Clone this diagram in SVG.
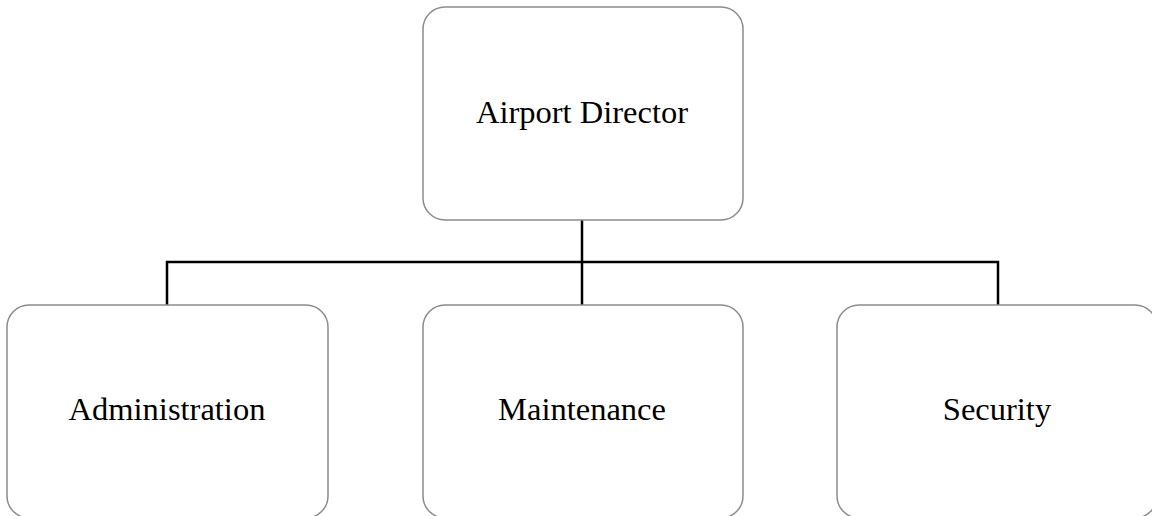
<svg xmlns="http://www.w3.org/2000/svg" width="1152" height="516" viewBox="0 0 1152 516">
<style>
.box{fill:#fff;stroke:#8c8c8c;stroke-width:1.5}
.lbl{font-family:"Liberation Serif","Times New Roman",serif;font-size:32.5px;fill:#000;text-anchor:middle}
.conn{fill:none;stroke:#000;stroke-width:2.5}
</style>
<rect width="1152" height="516" fill="#fff"/>
<g id="connectors">
<path class="conn" d="M582 220V262M167 305V262H998V305M582 262V305"/>
</g>
<g id="airport-director">
<rect class="box" x="423" y="7" width="320" height="213" rx="22"/>
<text class="lbl" x="582" y="123">Airport Director</text>
</g>
<g id="administration">
<rect class="box" x="7" y="305" width="321" height="213" rx="22"/>
<text class="lbl" x="167" y="420">Administration</text>
</g>
<g id="maintenance">
<rect class="box" x="423" y="305" width="320" height="213" rx="22"/>
<text class="lbl" x="582" y="420">Maintenance</text>
</g>
<g id="security">
<rect class="box" x="837" y="305" width="320" height="213" rx="22"/>
<text class="lbl" x="997" y="420">Security</text>
</g>
</svg>
